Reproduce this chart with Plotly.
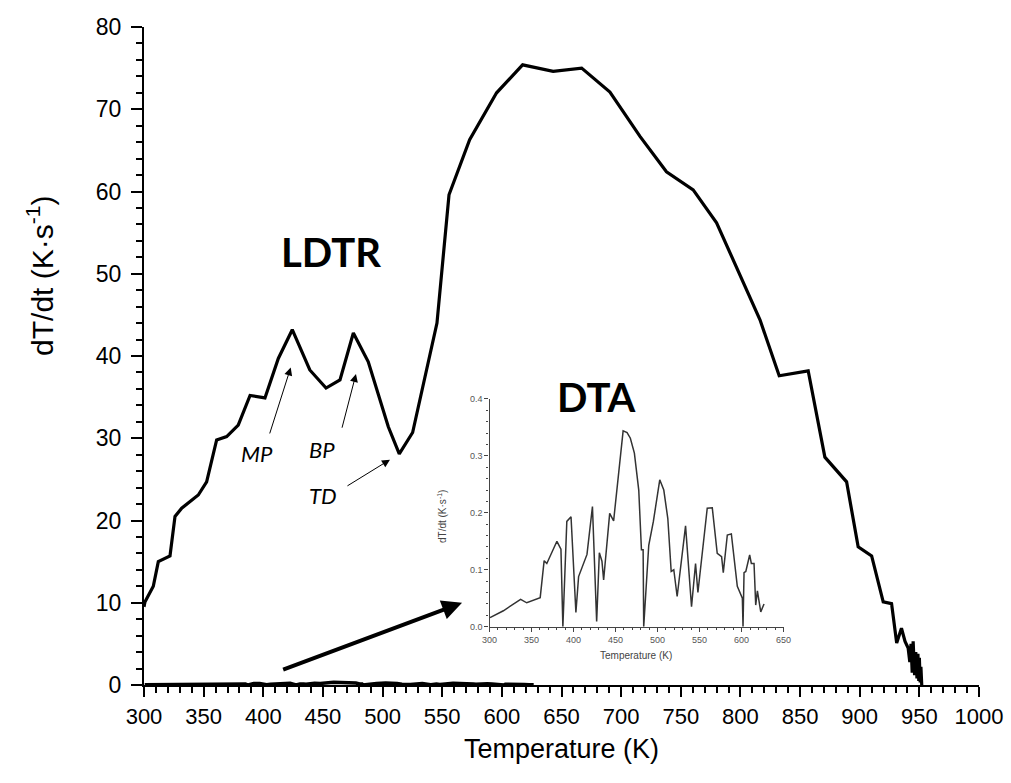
import plotly.graph_objects as go

# Main LDTR curve
ldtr_T = [300, 300.8, 307.8, 312, 321.8, 326, 331.6, 345.5, 352.5, 360.9, 369.3, 379, 388.9, 401.4,
          412.6, 424.3, 439, 452.6, 464.3, 475.5, 488, 504.8, 514, 525.2, 545.6, 555.7, 573, 595.6,
          617.4, 643, 666.9, 690.6, 715.8, 738, 760.4, 780, 816.4, 832.5, 856.8, 870.8, 889, 898.7,
          910, 919.7, 926.7, 931, 935, 938, 940.6, 942, 943, 944, 944.8, 946, 947, 948, 948.8,
          949.5, 950, 950.7, 951.3, 952]
ldtr_V = [9.5, 10.1, 12, 15, 15.7, 20.5, 21.5, 23.1, 24.7, 29.8, 30.2, 31.6, 35.2, 34.9,
          39.7, 43.2, 38.3, 36.1, 37.1, 42.8, 39.3, 31.4, 28.1, 30.7, 44, 59.6, 66.3, 72,
          75.4, 74.6, 75, 72.1, 66.7, 62.4, 60.2, 56.2, 44.4, 37.6, 38.2, 27.7, 24.7, 16.8,
          15.7, 10.1, 9.9, 5.1, 6.9, 5.3, 4.5, 2.8, 5.0, 1.5, 5.3, 1.2, 4.0, 0.8, 3.8,
          0.5, 3.3, 0.3, 2.2, 0.0]

# DTA curve (inset)
dta_T = [300.6, 316.5, 337, 344.3, 360.3, 365, 368.2, 380.2, 385, 387.3, 392, 397, 402.8, 406, 416,
         422.5, 427.5, 430.7, 433.8, 435.8, 443, 447.7, 459, 463.7, 467.6, 472.4, 477.6, 480.8,
         482.8, 483.5, 489.5, 495, 502.6, 507.4, 512.2, 516.2, 519.3, 523.3, 533.3, 540.4, 545.2,
         548, 559.1, 565.1, 571, 576.2, 578.2, 583, 587.8, 591.7, 594.9, 600.9, 601.7, 602.9, 605,
         609.6, 611.6, 614.8, 616.8, 618.8, 622.8, 626.7]
dta_V = [0.016, 0.028, 0.048, 0.042, 0.051, 0.116, 0.111, 0.150, 0.136, 0.0, 0.185, 0.193, 0.025,
         0.088, 0.127, 0.211, 0.009, 0.130, 0.115, 0.082, 0.199, 0.186, 0.344, 0.341, 0.331, 0.305,
         0.240, 0.135, 0.135, 0.0, 0.143, 0.185, 0.258, 0.240, 0.190, 0.097, 0.100, 0.053, 0.177,
         0.035, 0.111, 0.060, 0.208, 0.209, 0.129, 0.123, 0.095, 0.161, 0.163, 0.111, 0.071, 0.050,
         0.0, 0.095, 0.097, 0.126, 0.111, 0.111, 0.038, 0.063, 0.026, 0.040]

main_xticks = [300, 350, 400, 450, 500, 550, 600, 650, 700, 750, 800, 850, 900, 950, 1000]
main_yticks = [0, 10, 20, 30, 40, 50, 60, 70, 80]
inset_xticks = [300, 350, 400, 450, 500, 550, 600, 650]
inset_yticks = [0.0, 0.1, 0.2, 0.3, 0.4]

FONT = "Liberation Sans, Arial, sans-serif"

fig = go.Figure()
fig.add_trace(go.Scatter(x=ldtr_T, y=ldtr_V, mode="lines",
                         line=dict(color="black", width=3.2), showlegend=False))
fig.add_trace(go.Scatter(x=dta_T, y=dta_V, mode="lines",
                         line=dict(color="black", width=3.5), showlegend=False))
fig.add_trace(go.Scatter(x=dta_T, y=dta_V, mode="lines", xaxis="x2", yaxis="y2",
                         line=dict(color="#333333", width=1.5), showlegend=False))

axis_common = dict(showgrid=False, zeroline=False, showline=True, linecolor="black",
                   ticks="outside", tickcolor="black", automargin=False)

fig.update_layout(
    width=1011, height=783,
    margin=dict(l=144, r=32, t=27, b=98),
    paper_bgcolor="white", plot_bgcolor="white",
    font=dict(family=FONT, color="black"),
    xaxis=dict(range=[300, 1000], tickvals=main_xticks, linewidth=2.2, ticklen=10, tickwidth=2.2,
               tickfont=dict(size=22, family=FONT), ticklabelstandoff=0,
               minor=dict(dtick=10, ticklen=6, tickwidth=2, ticks="outside", tickcolor="black"),
               **axis_common),
    yaxis=dict(range=[0, 80], tickvals=main_yticks, linewidth=2.2, ticklen=11, tickwidth=2.2,
               tickfont=dict(size=23, family=FONT), ticklabelstandoff=5,
               minor=dict(dtick=2, ticklen=6, tickwidth=2, ticks="outside", tickcolor="black"),
               **axis_common),
    xaxis2=dict(domain=[0.4138, 0.766], anchor="y2", range=[300, 650], tickvals=inset_xticks,
                linewidth=1.2, ticklen=4, tickwidth=1, linecolor="#444",
                tickfont=dict(size=9, color="#555"), automargin=False,
                minor=dict(dtick=10, ticklen=2, tickwidth=1, ticks="outside", tickcolor="#444"),
                showgrid=False, zeroline=False, showline=True, ticks="outside", tickcolor="#444"),
    yaxis2=dict(domain=[0.0886, 0.4347], anchor="x2", range=[0, 0.4], tickvals=inset_yticks,
                tickformat=".1f", linewidth=1.2, ticklen=4, tickwidth=1, linecolor="#444",
                tickfont=dict(size=9, color="#555"), automargin=False,
                minor=dict(dtick=0.02, ticklen=2, tickwidth=1, ticks="outside", tickcolor="#444"),
                showgrid=False, zeroline=False, showline=True, ticks="outside", tickcolor="#444"),
)

ann = []
# axis titles (main)
ann.append(dict(text="Temperature (K)", x=0.5, y=-0.097, xref="paper", yref="paper",
                showarrow=False, font=dict(size=27, family=FONT), xanchor="center", yanchor="middle"))
ann.append(dict(text="dT/dt (K·s<sup>-1</sup>)", x=-0.1246, y=0.6216, xref="paper", yref="paper",
                showarrow=False, textangle=-90, font=dict(size=30, family=FONT),
                xanchor="center", yanchor="middle"))
# inset titles
ann.append(dict(text="Temperature (K)", x=0.5898, y=0.0441, xref="paper", yref="paper",
                showarrow=False, font=dict(size=10, family=FONT, color="#444"),
                xanchor="center", yanchor="middle"))
ann.append(dict(text="dT/dt (K·s<sup>-1</sup>)", x=0.3569, y=0.2553, xref="paper", yref="paper",
                showarrow=False, textangle=-90, font=dict(size=10, family=FONT, color="#444"),
                xanchor="center", yanchor="middle"))
# big labels
ann.append(dict(text="<b>LDTR</b>", x=456.7, y=52.6, xref="x", yref="y", showarrow=False,
                font=dict(size=40, family="Lato, sans-serif")))
ann.append(dict(text="<b>DTA</b>", x=679.7, y=35.0, xref="x", yref="y", showarrow=False,
                font=dict(size=40, family="Lato, sans-serif")))
# small italic labels
for t, x, y in [("MP", 394.7, 28.2), ("BP", 449.2, 28.6), ("TD", 450, 23.1)]:
    ann.append(dict(text=f"<i>{t}</i>", x=x, y=y, xref="x", yref="y", showarrow=False,
                    font=dict(size=22, family="Lato, sans-serif")))
# thin arrows
for (hx, hy, tx, ty) in [(423, 38.6, 405, 30.4), (477.7, 37.8, 465.7, 31.1), (506.2, 27.4, 469.3, 24.1)]:
    ann.append(dict(text="", x=hx, y=hy, ax=tx, ay=ty, xref="x", yref="y", axref="x", ayref="y",
                    showarrow=True, arrowhead=2, arrowsize=1.6, arrowwidth=1, arrowcolor="black"))
# big arrow
ann.append(dict(text="", x=566.6, y=10.0, ax=415.4, ay=1.8, xref="x", yref="y", axref="x", ayref="y",
                showarrow=True, arrowhead=2, arrowsize=1, arrowwidth=4, arrowcolor="black"))

fig.update_layout(annotations=ann)
fig.write_html("out.html")
